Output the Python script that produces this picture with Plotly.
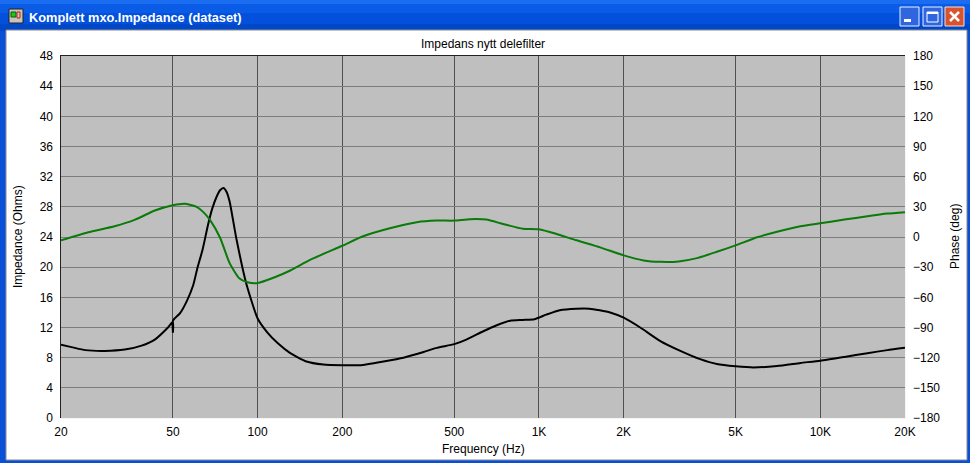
import plotly.graph_objects as go

W, H = 970, 463
L, R, T, B = 61, 905, 56, 418

impedance_freq = [20,21.8,24.4,28.6,33.7,38.7,43.1,48,50,50,50,53,56,59,61,63.7,66.6,69,71.6,73.5,75.6,77.5,79.5,84,91,100,108,118,130.6,149,171,200,231,280,330,389,433,500,552,634,708,790,876,963,1060,1185,1360,1510,1790,2000,2290,2700,3180,3740,4289,5000,5790,7020,8500,10000,12180,14700,17300,20000]
impedance_ohms = [9.7,9.4,9.0,8.9,9.07,9.6,10.4,12,12.75,11.3,12.9,13.9,15.5,17.6,19.8,22.3,25.6,27.8,29.4,30.2,30.5,30,28.7,23.8,17.9,13.2,11.4,9.9,8.6,7.5,7.1,7.0,7.0,7.5,8,8.75,9.3,9.8,10.4,11.5,12.3,12.9,13,13.1,13.7,14.3,14.5,14.5,14,13.3,12,10.2,8.9,7.8,7.15,6.85,6.7,6.9,7.3,7.6,8.1,8.6,9,9.3]
phase_freq = [20,25,31,36.7,43.1,50,55,60.7,64,67.7,73.6,79.5,86,92,99,115,130.6,153.6,200,237,295,368,433,500,568,650,745,876,1000,1155,1360,1650,2000,2356,2700,3137,3644,4289,5000,5960,7020,8500,10000,12180,14700,17300,20000]
phase_deg = [-3.3,4.7,10.7,17.3,26.3,31.5,33,30,25,17,-1,-26,-41,-45,-46,-40,-33.3,-22.7,-8.7,0.7,8.7,14.7,16.3,16.3,17.7,17.3,13,8.3,7.7,3,-3.3,-10.3,-18.3,-23.3,-24.7,-24.3,-21,-14.7,-8.3,-0.3,5.3,10.7,13.7,17.3,20.7,23.3,24.7]
x_ticks = [20,50,100,200,500,1000,2000,5000,10000,20000]
x_labels = ["20","50","100","200","500","1K","2K","5K","10K","20K"]
left_ticks = list(range(0,49,4))
right_ticks = list(range(-180,181,30))

FONT = "Liberation Sans, Arial, sans-serif"
fig = go.Figure()
fig.add_trace(go.Scatter(x=impedance_freq, y=impedance_ohms, mode="lines", showlegend=False,
                         line=dict(color="#000000", width=2, shape="spline", smoothing=0.55)))
fig.add_trace(go.Scatter(x=phase_freq, y=phase_deg, yaxis="y2", mode="lines", showlegend=False,
                         line=dict(color="#0a7a0a", width=2, shape="spline", smoothing=0.55)))

def px(x0, y0, x1, y1, fill, line=None, w=0, layer="below"):
    return dict(type="rect", xref="paper", yref="paper",
                x0=(x0-L)/(R-L), x1=(x1-L)/(R-L), y0=(B-y0)/(B-T), y1=(B-y1)/(B-T),
                fillcolor=fill, line=dict(color=line or fill, width=w), layer=layer)

shapes = [
    px(0,0,W,H,"#0a4fd8"),
    px(0,0,W,4,"#1a6cf0"),
    px(0,4,W,13,"#0a5ce6"),
    px(0,13,W,24,"#0250dc"),
    px(0,24,W,31,"#0048c8"),
    px(6,30,967,460,"#ffffff","#8a8a8a",1),
    # sunken plot frame
    px(L-1,T-1,R+1,B+1,"#ffffff"),
    px(L-1,T-1,R,B,"#222222"),
    px(L,T,R+1,B+1,"#f4f4f4"),
    px(L,T,R,B,"#bfbfbf"),
    # app icon
    px(9,9,23,23,"#c8c4b8","#222222",1,"above"),
    px(11,12,16,17,"#19c819","#0a5a0a",1,"above"),
    px(17,12,20,18,"#c8c4b8","#c02020",1,"above"),
    # window buttons
    px(900,7,919,26,"#2f66e0","#e8eeff",1,"above"),
    px(904,19,911,22,"#ffffff",None,0,"above"),
    px(923,7,942,26,"#2f66e0","#e8eeff",1,"above"),
    px(927,12,938,22,"#2f66e0","#ffffff",1,"above"),
    px(927,12,938,14,"#ffffff",None,0,"above"),
    px(945,7,964,26,"#d9532f","#f4e0d8",1,"above"),
    dict(type="line", xref="paper", yref="paper", layer="above", line=dict(color="#ffffff", width=2.5),
         x0=(950-L)/(R-L), x1=(959-L)/(R-L), y0=(B-12)/(B-T), y1=(B-21)/(B-T)),
    dict(type="line", xref="paper", yref="paper", layer="above", line=dict(color="#ffffff", width=2.5),
         x0=(950-L)/(R-L), x1=(959-L)/(R-L), y0=(B-21)/(B-T), y1=(B-12)/(B-T)),
]

def text(x, y, s, size=12, color="#000000", anchor="center", weight=None, angle=0):
    return dict(xref="paper", yref="paper", x=(x-L)/(R-L), y=(B-y)/(B-T), text=s, showarrow=False,
                xanchor=anchor, yanchor="middle", textangle=angle,
                font=dict(family=FONT, size=size, color=color, weight=weight))

annotations = [
    text(27, 17, "Komplett mxo.Impedance (dataset)", 12.8, "#ffffff", "left", 700),
    text(483, 44, "Impedans nytt delefilter", 12),
    text(483, 449, "Frequency (Hz)", 12),
    text(18, 237, "Impedance (Ohms)", 12, angle=-90),
    text(955, 237, "Phase (deg)", 12, angle=-90),
]

fig.update_layout(
    width=W, height=H, autosize=False,
    margin=dict(l=L, r=W-R, t=T, b=H-B, pad=0),
    paper_bgcolor="#ffffff", plot_bgcolor="rgba(0,0,0,0)",
    font=dict(family=FONT, size=12, color="#000000"),
    shapes=shapes, annotations=annotations,
    xaxis=dict(type="log", range=[1.30103,4.30103], tickvals=x_ticks, ticktext=x_labels, tickangle=0,
               showgrid=True, gridcolor="#505050", gridwidth=1, zeroline=False, ticks="", showline=False,
               ticklabelstandoff=5, tickfont=dict(size=12)),
    yaxis=dict(range=[0,48], tickvals=left_ticks, showgrid=True, gridcolor="#7c7c7c", gridwidth=1,
               zeroline=False, ticks="", showline=False, ticklabelstandoff=7, tickfont=dict(size=12)),
    yaxis2=dict(range=[-180,180], tickvals=right_ticks, overlaying="y", side="right", showgrid=False,
                zeroline=False, ticks="", showline=False, ticklabelstandoff=7, tickfont=dict(size=12)),
)
fig.write_html("out.html", config=dict(displayModeBar=False),
               post_script="document.body.style.margin='0';document.body.style.overflow='hidden';")
